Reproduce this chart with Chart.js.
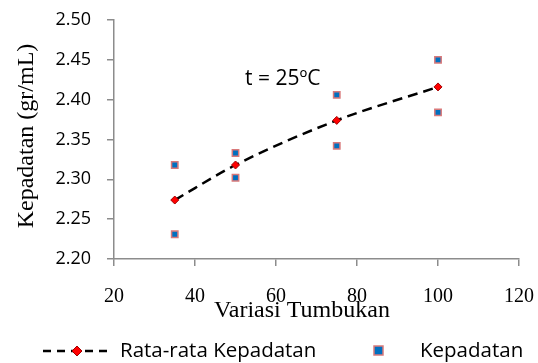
<!DOCTYPE html>
<html>
<head>
<meta charset="utf-8">
<script src="https://cdn.jsdelivr.net/npm/chart.js@4/dist/chart.umd.min.js"></script>
<style>
    html, body { margin: 0; padding: 0; background: #fff; }
    #wrap { width: 538px; height: 363px; }
</style>
</head>
<body>
<div id="wrap"><canvas id="myChart" width="538" height="363"></canvas></div>
<script>
// data
const tumbukan = [35, 50, 75, 100];
const rataRata = [2.274, 2.318, 2.374, 2.416];
const kepadatanX = [35, 35, 50, 50, 75, 75, 100, 100];
const kepadatanY = [2.318, 2.231, 2.333, 2.302, 2.406, 2.342, 2.450, 2.384];
const xTicks = [20, 40, 60, 80, 100, 120];
const yTicks = [2.20, 2.25, 2.30, 2.35, 2.40, 2.45, 2.50];

const serif = '"Liberation Serif", "Times New Roman", serif';
const sans = '"Open Sans", "DejaVu Sans", sans-serif';
const axisGrey = '#8c8c8c';

/**
 * Draw axis titles, note and legend
 */
const extras = {
    id: 'extras',
    afterDraw(chart) {
        let ctx = chart.ctx;
        ctx.save();
        ctx.fillStyle = '#000';

        // y title
        ctx.save();
        ctx.translate(27, 136);
        ctx.rotate(-Math.PI / 2);
        ctx.font = '24px ' + serif;
        ctx.textAlign = 'center';
        ctx.textBaseline = 'middle';
        ctx.fillText('Kepadatan (gr/mL)', 0, 0);
        ctx.restore();

        // x title
        ctx.font = '24px ' + serif;
        ctx.textAlign = 'center';
        ctx.textBaseline = 'middle';
        ctx.fillText('Variasi Tumbukan', 302, 311);

        // note
        ctx.font = '21px ' + sans;
        ctx.textAlign = 'left';
        ctx.fillText('t = 25\u00baC', 245, 79);

        // legend: dashed line with diamond
        ctx.strokeStyle = '#000';
        ctx.lineWidth = 2.5;
        ctx.setLineDash([8, 6]);
        ctx.beginPath();
        ctx.moveTo(43, 351);
        ctx.lineTo(107, 351);
        ctx.stroke();
        ctx.setLineDash([]);
        ctx.fillStyle = '#ff0000';
        ctx.strokeStyle = '#a00000';
        ctx.lineWidth = 1;
        ctx.beginPath();
        ctx.moveTo(77, 346);
        ctx.lineTo(82, 351);
        ctx.lineTo(77, 356);
        ctx.lineTo(72, 351);
        ctx.closePath();
        ctx.fill();
        ctx.stroke();

        ctx.fillStyle = '#000';
        ctx.font = '20.5px ' + sans;
        ctx.fillText('Rata-rata Kepadatan', 120, 351);

        // legend: square marker
        ctx.fillStyle = '#0070c0';
        ctx.strokeStyle = '#d9797a';
        ctx.lineWidth = 1.5;
        ctx.fillRect(374, 346, 9, 9);
        ctx.strokeRect(374, 346, 9, 9);
        ctx.fillStyle = '#000';
        ctx.fillText('Kepadatan', 420, 351);

        ctx.restore();
    }
};

let ctx = document.getElementById('myChart').getContext('2d');
let myChart = new Chart(ctx, {
    type: 'scatter',
    data: {
        datasets: [{
            label: 'Kepadatan',
            data: kepadatanX.map(function (x, i) { return { x: x, y: kepadatanY[i] }; }),
            pointStyle: 'rect',
            pointRadius: 4.5,
            pointHoverRadius: 4.5,
            backgroundColor: '#0070c0',
            borderColor: '#d9797a',
            borderWidth: 1.5,
            order: 2
        }, {
            label: 'Rata-rata Kepadatan',
            data: tumbukan.map(function (x, i) { return { x: x, y: rataRata[i] }; }),
            showLine: true,
            cubicInterpolationMode: 'monotone',
            borderColor: '#000',
            borderWidth: 2.5,
            borderDash: [10, 6],
            pointStyle: 'rectRot',
            pointRadius: 4,
            pointHoverRadius: 4,
            pointBackgroundColor: '#ff0000',
            pointBorderColor: '#a00000',
            pointBorderWidth: 1,
            order: 1
        }]
    },
    options: {
        responsive: false,
        animation: false,
        devicePixelRatio: 1,
        layout: {
            padding: { left: 0, right: 19, top: 20, bottom: 0 }
        },
        plugins: {
            legend: { display: false },
            tooltip: { enabled: false }
        },
        scales: {
            x: {
                type: 'linear',
                min: xTicks[0],
                max: xTicks[xTicks.length - 1],
                afterBuildTicks: function (scale) {
                    scale.ticks = xTicks.map(function (v) { return { value: v }; });
                },
                afterFit: function (scale) {
                    scale.height = 104;
                    scale.paddingLeft = 0;
                    scale.paddingRight = 0;
                },
                grid: { drawOnChartArea: false, drawTicks: true, tickLength: 7, color: axisGrey, lineWidth: 1.5 },
                border: { color: axisGrey, width: 1.5 },
                ticks: {
                    color: '#000',
                    padding: 19,
                    maxRotation: 0,
                    font: { family: serif, size: 20 }
                }
            },
            y: {
                min: yTicks[0],
                max: yTicks[yTicks.length - 1],
                afterBuildTicks: function (scale) {
                    scale.ticks = yTicks.map(function (v) { return { value: v }; });
                },
                afterFit: function (scale) {
                    scale.width = 114;
                    scale.paddingTop = 0;
                    scale.paddingBottom = 0;
                },
                grid: { drawOnChartArea: false, drawTicks: true, tickLength: 7, color: axisGrey, lineWidth: 1.5 },
                border: { color: axisGrey, width: 1.5 },
                ticks: {
                    color: '#000',
                    padding: 16,
                    font: { family: sans, size: 18 },
                    callback: function (v) { return Number(v).toFixed(2); }
                }
            }
        }
    },
    plugins: [extras]
});
</script>
</body>
</html>
